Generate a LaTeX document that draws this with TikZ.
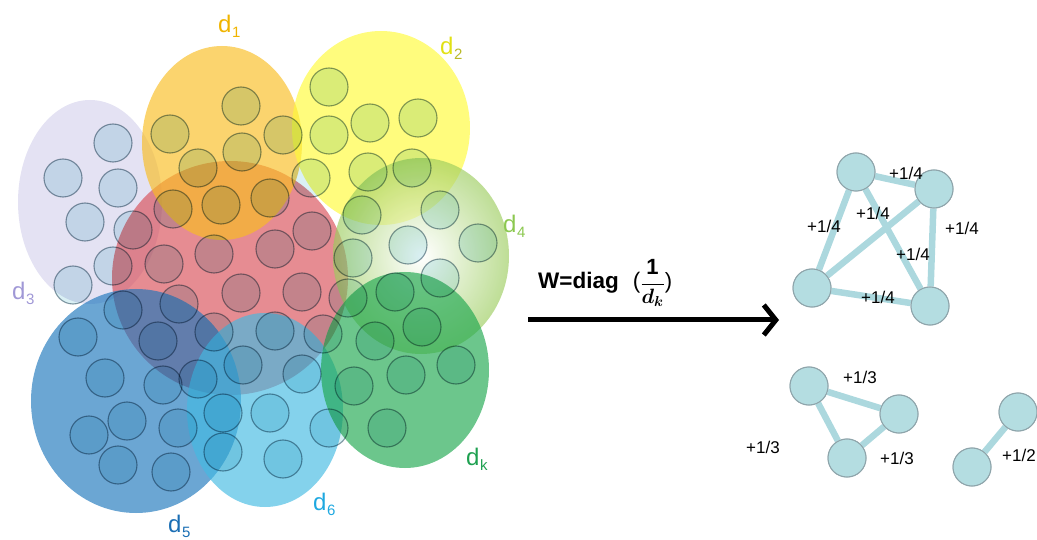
\documentclass[tikz,border=0pt]{standalone}
\usepackage{fontspec}
\usepackage{bm}
\setmainfont{Liberation Sans}
\usetikzlibrary{arrows.meta}

% cluster colours (drawn translucent)
\definecolor{cLav}{RGB}{213,210,236}
\definecolor{cRed}{RGB}{216,78,87}
\definecolor{cOra}{RGB}{249,189,32}
\definecolor{cYel}{RGB}{255,250,55}
\definecolor{cLgr}{RGB}{155,204,93}
\definecolor{cGrn}{RGB}{29,167,78}
\definecolor{cBlu}{RGB}{28,118,188}
\definecolor{cCya}{RGB}{66,186,226}
% members (multiplied onto the clusters)
\definecolor{dotFill}{RGB}{218,240,244}
\definecolor{dotLine}{RGB}{138,156,166}
% label colours
\definecolor{tOra}{RGB}{240,180,0}
\definecolor{tYel}{RGB}{225,225,20}
\definecolor{tYelS}{RGB}{185,185,40}
\definecolor{tLav}{RGB}{160,152,214}
\definecolor{tLgr}{RGB}{140,200,80}
\definecolor{tBlu}{RGB}{26,110,180}
\definecolor{tCya}{RGB}{30,168,224}
\definecolor{tGrn}{RGB}{30,160,80}
% graphs
\definecolor{gFill}{RGB}{180,221,225}
\definecolor{gLine}{RGB}{142,164,170}
\definecolor{gEdge}{RGB}{172,216,222}

\newcommand{\dl}[1]{d\kern0.5pt\raisebox{-5pt}{\fontsize{15}{15}\selectfont #1}}

\tikzset{
  blob/.style={fill=#1, fill opacity=0.65},
  dot/.style={circle, minimum size=38pt, inner sep=0pt, fill=dotFill,
              draw=dotLine, line width=1.1pt},
  clab/.style={anchor=base west, inner sep=0pt, text=#1,
               font=\fontsize{24}{24}\selectfont},
  gnode/.style={circle, minimum size=38pt, inner sep=0pt, fill=gFill,
                draw=gLine, line width=1pt},
  gedge/.style={draw=gEdge, line width=6.5pt},
  wlab/.style={inner sep=0pt, font=\fontsize{17}{17}\selectfont},
}

\begin{document}
\begin{tikzpicture}[x=1pt, y=-1pt]
\useasboundingbox (0,0) rectangle (1037,540);

% ---------- overlapping clusters ----------
\fill[blob=cLav] (90,202) ellipse [x radius=72, y radius=102];
\fill[blob=cRed] (230,278) ellipse [x radius=118, y radius=117];
\fill[blob=cOra] (222,143) ellipse [x radius=80, y radius=97];
\fill[blob=cYel] (381,128) ellipse [x radius=89, y radius=97];
\shade[inner color=white, outer color=cLgr, opacity=0.65] (421,256) ellipse [x radius=88, y radius=98];
\fill[blob=cBlu] (136,401) ellipse [x radius=105, y radius=112];
\fill[blob=cCya] (265,410) ellipse [x radius=78, y radius=97];
\fill[blob=cGrn] (405,370) ellipse [x radius=84, y radius=98];

% members of the clusters
\begin{scope}[blend mode=multiply]
  \foreach \px/\py [count=\i] in {
     241/106, 170/134, 283/135, 242/152, 198/168, 173/209, 221/205, 270/198,
     329/87, 370/123, 418/118, 329/135, 311/178, 368/172, 412/168,
     113/143, 63/178, 118/188, 85/222, 133/230, 113/266, 73/285,
     362/215, 440/210, 408/245, 478/243, 353/258, 312/231,
     164/264, 214/254, 275/249, 241/293, 302/292, 179/304, 348/298,
     123/310, 158/341, 214/332, 275/331, 323/334, 243/365, 302/374,
     105/378, 163/385, 198/379, 354/386, 395/292, 440/278, 78/337,
     375/341, 422/327, 406/375, 456/365, 127/421, 89/435, 178/428,
     223/413, 270/413, 329/428, 387/428, 118/465, 171/472, 223/452, 283/459}
    \node[dot] (m\i) at (\px,\py) {};
\end{scope}

% ---------- cluster labels ----------
\node[clab=tOra] (l1) at (218,33) {\dl{1}};
\node[clab=tYel] (l2) at (440,55) {d\kern0.5pt\raisebox{-5pt}{\fontsize{15}{15}\selectfont\color{tYelS}2}};
\node[clab=tLav] (l3) at (12,300) {\dl{3}};
\node[clab=tLgr] (l4) at (503,233) {\dl{4}};
\node[clab=tBlu] (l5) at (168,532) {\dl{5}};
\node[clab=tCya] (l6) at (313,510) {\dl{6}};
\node[clab=tGrn] (lk) at (466,465) {\dl{k}};

% ---------- transformation arrow ----------
\node[anchor=base west, inner sep=0pt, font=\fontsize{22.5}{22.5}\selectfont] (wd) at (538,289)
  {\textbf{W=diag}\hspace{14pt}(\fontsize{22}{22}\selectfont$\displaystyle\frac{\mathbf{1}}{\bm{d_k}}$)};
\coordinate (as) at (528,320);
\coordinate (ae) at (779,320);
\draw[line width=5pt, -{Straight Barb[length=12pt, width=30pt]}] (as) -- (ae);

% ---------- resulting graphs ----------
\node[gnode] (a) at (856,172) {};
\node[gnode] (b) at (934,189) {};
\node[gnode] (c) at (812,288) {};
\node[gnode] (d) at (930,306) {};
\node[gnode] (e) at (809,386) {};
\node[gnode] (f) at (899,414) {};
\node[gnode] (g) at (847,458) {};
\node[gnode] (h) at (1018,412) {};
\node[gnode] (i) at (972,467) {};

\path[gedge] (a) -- (b) (a) -- (c) (a) -- (d) (b) -- (c) (b) -- (d) (c) -- (d)
             (e) -- (f) (e) -- (g) (f) -- (g) (h) -- (i);
% redraw the vertices over the edge ends
\foreach \n in {a,b,c,d,e,f,g,h,i}
  \node[gnode] at (\n) {};

\node[wlab] (w1) at (906,173) {+1/4};
\node[wlab] (w2) at (824,226) {+1/4};
\node[wlab] (w3) at (873,213) {+1/4};
\node[wlab] (w4) at (962,228) {+1/4};
\node[wlab] (w5) at (913,254) {+1/4};
\node[wlab] (w6) at (878,297) {+1/4};
\node[wlab] (w7) at (860,377) {+1/3};
\node[wlab] (w8) at (763,447) {+1/3};
\node[wlab] (w9) at (897,458) {+1/3};
\node[wlab, anchor=west] (w10) at (1002,455) {+1/2};
\end{tikzpicture}
\end{document}
